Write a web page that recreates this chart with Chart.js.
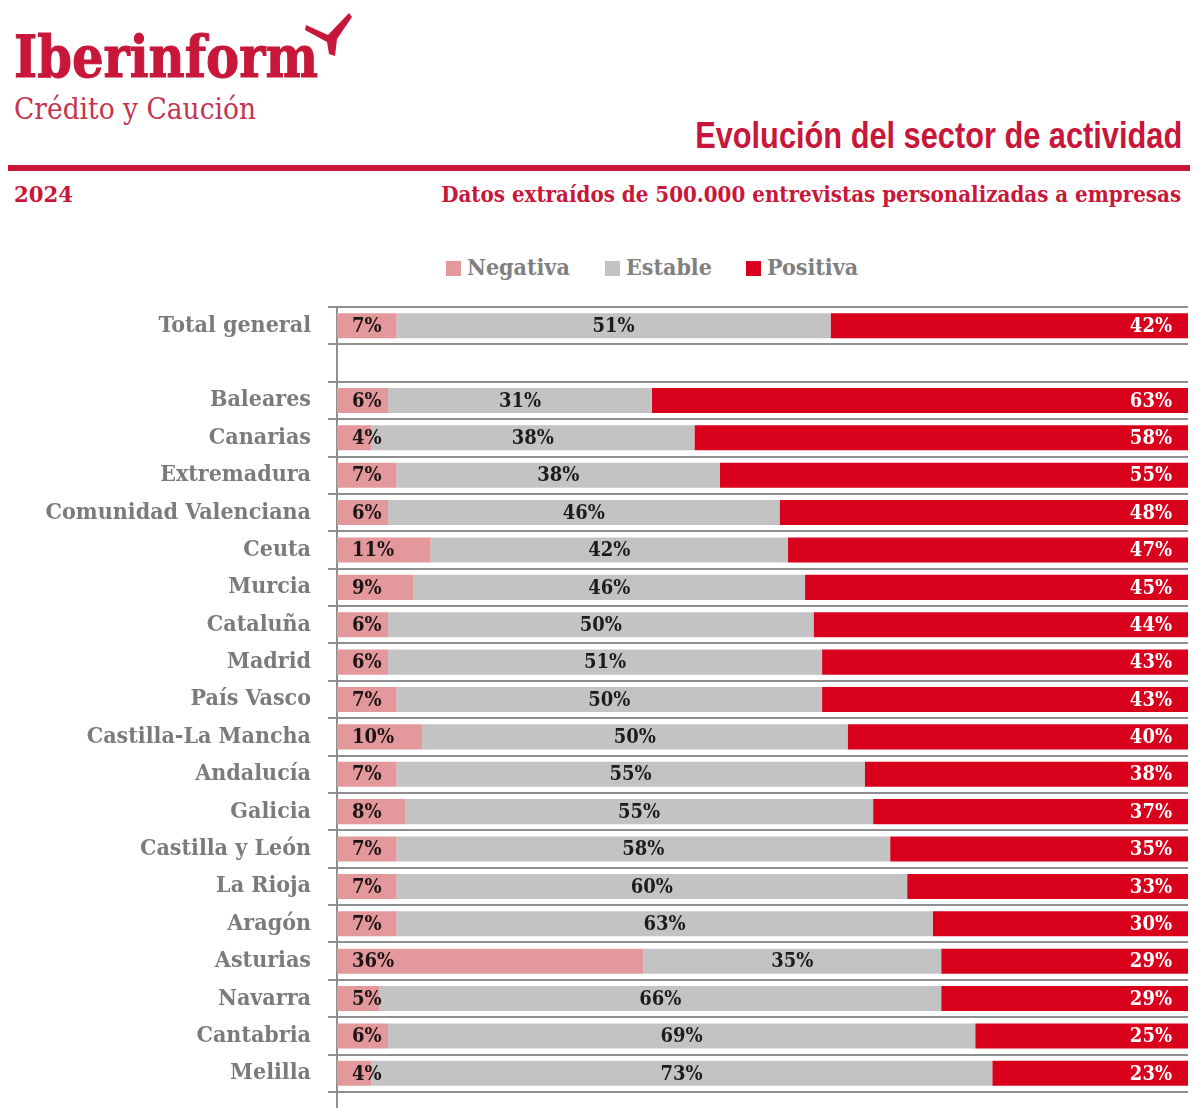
<!DOCTYPE html>
<html>
<head>
<meta charset="utf-8">
<script src="https://cdn.jsdelivr.net/npm/chart.js@4"></script>
<style>
  html, body { margin:0; padding:0; background:#fff; }
  body { width:1200px; height:1108px; position:relative; overflow:hidden; }
  .abs { position:absolute; white-space:nowrap; }
  .serif { font-family:"DejaVu Serif Condensed","DejaVu Serif",serif; }
  #brand { left:14px; top:28px; font-size:58px; font-weight:bold; color:#c8173a; line-height:1; transform-origin:left top; -webkit-text-stroke:1px #c8173a; }
  #brandSub { left:14px; top:95px; font-size:29px; color:#c43450; line-height:1; transform-origin:left top; }
  #title { right:18px; top:118px; font-family:"Liberation Sans Narrow","Liberation Sans",sans-serif; font-weight:bold; font-size:36px; color:#c8173a; line-height:1; transform-origin:right top; }
  #rule { left:8px; top:165px; width:1182px; height:6px; background:#c8173a; }
  #year { left:14px; top:183px; font-size:22px; font-weight:bold; color:#c8173a; line-height:1; transform-origin:left top; }
  #subtitle { right:19px; top:183px; font-size:22px; font-weight:bold; color:#c8173a; line-height:1; transform-origin:right top; }
  #legend { left:446px; top:255px; font-size:23px; font-weight:bold; color:#808080; line-height:24px; }
  #legend span.item { position:absolute; top:0; white-space:nowrap; }
  #legend i { display:inline-block; width:15px; height:15px; margin-right:6px; vertical-align:-1px; }
  #chartBox { position:absolute; left:0; top:295px; width:1200px; height:813px; }
</style>
</head>
<body>
<div id="brand" class="abs serif" data-w="304">Iberinform</div>
<svg class="abs" style="left:300px;top:8px" width="56" height="52" viewBox="0 0 56 52">
  <path d="M6 17 L28 27 L49 5 L52 9 L37 31 L35 48 L29 46 L27 34 L5 22 Z" fill="#c8173a"/>
</svg>
<div id="brandSub" class="abs serif" data-w="242">Crédito y Caución</div>
<div id="title" class="abs" data-w="487">Evolución del sector de actividad</div>
<div id="rule" class="abs"></div>
<div id="year" class="abs serif" data-w="59">2024</div>
<div id="subtitle" class="abs serif" data-w="740">Datos extraídos de 500.000 entrevistas personalizadas a empresas</div>
<div id="legend" class="abs serif"></div>
<div id="chartBox"><canvas id="chart" width="1200" height="813"></canvas></div>

<script>
/* DATA */
const categories = ["Total general", "", "Baleares", "Canarias", "Extremadura", "Comunidad Valenciana",
  "Ceuta", "Murcia", "Cataluña", "Madrid", "País Vasco", "Castilla-La Mancha", "Andalucía",
  "Galicia", "Castilla y León", "La Rioja", "Aragón", "Asturias", "Navarra", "Cantabria", "Melilla"];
const negativa = [7, null, 6, 4, 7, 6, 11, 9, 6, 6, 7, 10, 7, 8, 7, 7, 7, 36, 5, 6, 4];
const estable  = [51, null, 31, 38, 38, 46, 42, 46, 50, 51, 50, 50, 55, 55, 58, 60, 63, 35, 66, 69, 73];
const positiva = [42, null, 63, 58, 55, 48, 47, 45, 44, 43, 43, 40, 38, 37, 35, 33, 30, 29, 29, 25, 23];
const seriesNames = ["Negativa", "Estable", "Positiva"];
const seriesColors = ["#e3999c", "#c3c3c3", "#d9001c"];

const SERIF = '"DejaVu Serif Condensed","DejaVu Serif",serif';

/* fit header texts to their widths */
document.querySelectorAll("[data-w]").forEach(el => {
  const w = +el.dataset.w;
  const real = el.getBoundingClientRect().width;
  if (real > 0) el.style.transform = `scaleX(${w / real})`;
});

/* LEGEND */
const legendX = [0, 159, 300];
const legend = document.getElementById("legend");
seriesNames.forEach((n, i) => {
  const s = document.createElement("span");
  s.className = "item";
  s.style.left = legendX[i] + "px";
  s.innerHTML = `<i style="background:${seriesColors[i]}"></i>${n}`;
  legend.appendChild(s);
});

/* LABELS IN BARS */
const barLabels = {
  id: "barLabels",
  afterDatasetsDraw(chart) {
    const c = chart.ctx, area = chart.chartArea;
    c.save();
    c.font = "bold 20px " + SERIF;
    c.textBaseline = "middle";
    chart.data.datasets.forEach((ds, i) => {
      chart.getDatasetMeta(i).data.forEach((bar, j) => {
        const v = ds.data[j];
        if (v == null) return;
        let x;
        if (i === 0) { c.textAlign = "left"; x = area.left + 15; c.fillStyle = "#1c1414"; }
        else if (i === 1) { c.textAlign = "center"; x = (bar.base + bar.x) / 2; c.fillStyle = "#1c1c1c"; }
        else { c.textAlign = "right"; x = area.right - 16; c.fillStyle = "#ffffff"; }
        c.fillText(v + "%", x, bar.y + 1);
      });
    });
    c.restore();
  }
};

/* axis line runs on below last row */
const axisTail = {
  id: "axisTail",
  afterDraw(chart) {
    const c = chart.ctx, a = chart.chartArea;
    c.save();
    c.strokeStyle = "#8f8f8f";
    c.lineWidth = 2;
    c.beginPath();
    c.moveTo(a.left, a.bottom);
    c.lineTo(a.left, chart.height);
    c.stroke();
    c.restore();
  }
};

new Chart(document.getElementById("chart"), {
  type: "bar",
  data: {
    labels: categories,
    datasets: seriesNames.map((n, i) => ({
      label: n,
      data: [negativa, estable, positiva][i],
      backgroundColor: seriesColors[i],
      categoryPercentage: 1,
      barPercentage: 0.67
    }))
  },
  options: {
    indexAxis: "y",
    responsive: false,
    animation: false,
    layout: { padding: { top: 12, right: 12, bottom: 16, left: 0 } },
    scales: {
      x: { stacked: true, min: 0, max: 100, display: false },
      y: {
        stacked: true,
        grid: { color: "#8f8f8f", lineWidth: 2, tickLength: 9, offset: true },
        border: { color: "#8f8f8f", width: 2 },
        ticks: { autoSkip: false, padding: 17, color: "#7b7b7b", font: { family: SERIF, size: 23, weight: "bold" } },
        afterFit(scale) {
          scale.width = 337;
          scale.paddingTop = 0;
          scale.paddingBottom = 0;
        }
      }
    },
    plugins: { legend: { display: false }, tooltip: { enabled: false } }
  },
  plugins: [barLabels, axisTail]
});
</script>
</body>
</html>
